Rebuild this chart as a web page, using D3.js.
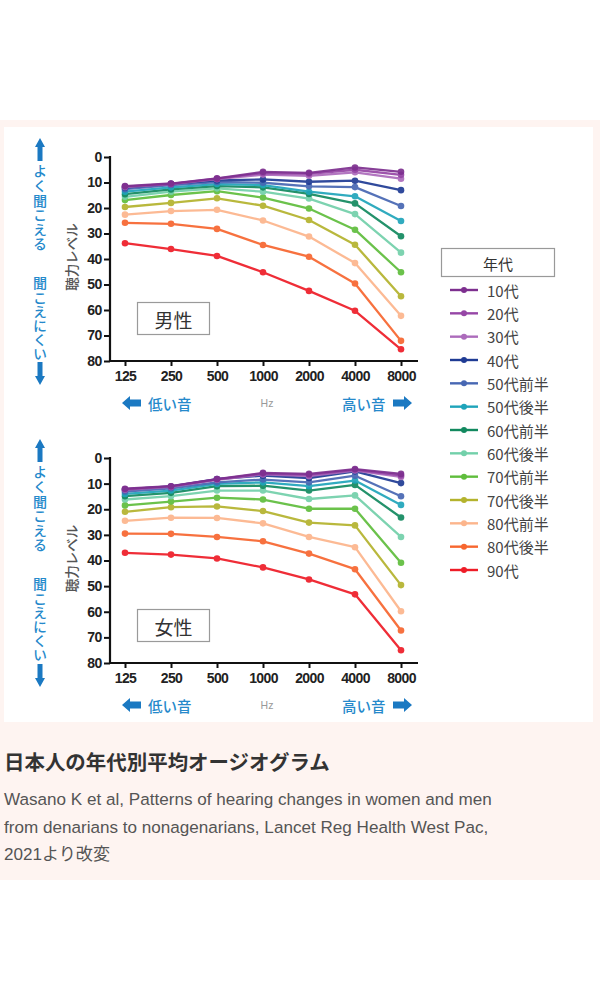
<!DOCTYPE html>
<html><head><meta charset="utf-8">
<script src="https://cdn.jsdelivr.net/npm/d3@7"></script>
<style>
html,body{margin:0;padding:0;background:#fff;}
svg{display:block;}
</style></head>
<body>
<svg id="chart" width="600" height="1000"></svg>
<script>
const frequencies = ["125","250","500","1000","2000","4000","8000"];
const ageGroups = ["10代","20代","30代","40代","50代前半","50代後半","60代前半","60代後半","70代前半","70代後半","80代前半","80代後半","90代"];
const yTicks = [0,10,20,30,40,50,60,70,80];

const maleLevels = [
  [11.4, 10.4, 8.4, 5.8, 6.2, 4.1, 5.8],
  [11.6, 10.5, 8.5, 6.3, 6.6, 5.0, 7.0],
  [11.8, 10.6, 8.7, 6.9, 7.4, 6.0, 8.5],
  [12.0, 10.5, 9.2, 8.8, 9.7, 9.3, 13.0],
  [12.6, 11.0, 9.8, 10.1, 11.5, 11.8, 19.2],
  [13.6, 11.9, 10.6, 11.0, 13.6, 15.4, 25.1],
  [14.6, 12.7, 11.4, 11.9, 14.5, 18.2, 31.1],
  [15.6, 13.6, 12.3, 13.6, 16.3, 22.4, 37.5],
  [16.9, 14.9, 13.4, 15.9, 20.2, 28.5, 45.2],
  [19.6, 18.0, 16.2, 19.1, 24.7, 34.4, 54.6],
  [22.6, 21.2, 20.7, 24.9, 31.2, 41.6, 62.3],
  [25.8, 26.2, 28.2, 34.5, 39.1, 49.6, 72.1],
  [33.8, 36.1, 38.8, 45.2, 52.5, 60.3, 75.4]
];
const femaleLevels = [
  [12.0, 11.0, 8.2, 5.8, 6.2, 4.3, 6.2],
  [12.2, 11.1, 8.3, 6.1, 6.6, 4.6, 6.8],
  [12.4, 11.3, 8.5, 6.4, 7.1, 4.9, 7.4],
  [12.3, 11.1, 8.2, 6.9, 7.8, 5.2, 9.8],
  [13.1, 11.8, 9.5, 8.4, 9.5, 6.9, 14.9],
  [14.0, 12.7, 10.1, 9.5, 11.0, 8.8, 18.3],
  [14.9, 13.6, 11.0, 10.8, 12.7, 10.5, 23.2],
  [16.2, 14.9, 12.7, 12.7, 16.0, 14.6, 30.8],
  [18.5, 17.0, 15.5, 16.2, 19.8, 19.8, 40.9],
  [21.0, 19.2, 18.9, 20.7, 25.2, 26.3, 49.6],
  [24.5, 23.3, 23.4, 25.5, 30.8, 34.8, 59.8],
  [29.5, 29.6, 30.8, 32.5, 37.3, 43.4, 67.3],
  [37.0, 37.7, 39.2, 42.7, 47.4, 53.2, 75.0]
];
const seriesColors = ["#7d2f8f","#9646a6","#ac6bbb","#1f3b94","#4767b3","#1fa4ba","#12895f","#72d0aa","#5fbd3c","#b4b32d","#fcb58c","#f7662f","#ee1c27"];

const JP = "'Noto Sans CJK JP','Noto Sans',sans-serif";
const NUM = "'Liberation Sans',Arial,sans-serif";
const CAP = "'Liberation Sans',Arial,'Noto Sans CJK JP',sans-serif";
const BLUE = "#1b79c2";
const BLUE_TXT = "#2589cb";

const svg = d3.select("#chart");
svg.append("rect").attr("x",0).attr("y",120).attr("width",600).attr("height",760).attr("fill","#fef4f1");
svg.append("rect").attr("x",4).attr("y",127).attr("width",589).attr("height",595).attr("fill","#ffffff");

const x = d3.scalePoint().domain(frequencies).range([125, 401]);

function vArrow(g, cx, tip, dir) {
  const s = dir; // -1 up, +1 down
  const pts = [[0,0],[5,-9*s],[2.5,-9*s],[2.5,-23*s],[-2.5,-23*s],[-2.5,-9*s],[-5,-9*s]];
  g.append("path").attr("d", d3.line()(pts.map(p => [cx+p[0], tip+p[1]])) + "Z").attr("fill", BLUE);
}
function hArrow(g, tipX, cy, dir) {
  const s = dir; // -1 left, +1 right
  const pts = [[0,0],[-8*s,-7],[-8*s,-3.5],[-19*s,-3.5],[-19*s,3.5],[-8*s,3.5],[-8*s,7]];
  g.append("path").attr("d", d3.line()(pts.map(p => [tipX+p[0], cy+p[1]])) + "Z").attr("fill", BLUE);
}
function verticalText(g, str, cx, top, spacing) {
  g.append("text").attr("x", cx).attr("y", top)
    .attr("style", "writing-mode: vertical-rl; text-orientation: upright;")
    .attr("letter-spacing", spacing)
    .attr("font-family", JP).attr("font-size", 14).attr("font-weight", 500)
    .attr("fill", BLUE_TXT).text(str);
}

function drawPanel(levels, top, bottom, label, opts) {
  const g = svg.append("g");
  const y = d3.scaleLinear().domain([0, 80]).range([top, bottom]);
  const axisX = 110;

  const yAxis = d3.axisLeft(y).tickValues(yTicks).tickSize(6).tickPadding(2);
  const ya = g.append("g").attr("transform", `translate(${axisX},0)`).call(yAxis);
  ya.select(".domain").attr("stroke","#111").attr("stroke-width",2.2).attr("d", `M0,${top-1}V${bottom}`);
  ya.selectAll(".tick line").attr("stroke","#111").attr("stroke-width",2);
  ya.selectAll(".tick text").attr("font-family", NUM).attr("font-weight","bold").attr("font-size",14).attr("fill","#222").attr("letter-spacing",-0.4);

  const xAxis = d3.axisBottom(x).tickSize(5).tickPadding(5);
  const xa = g.append("g").attr("transform", `translate(0,${bottom})`).call(xAxis);
  xa.select(".domain").attr("stroke","#111").attr("stroke-width",2.2).attr("d", `M${axisX-1},0H418`);
  xa.selectAll(".tick line").attr("stroke","#111").attr("stroke-width",2);
  xa.selectAll(".tick text").attr("font-family", NUM).attr("font-weight","bold").attr("font-size",14).attr("fill","#222").attr("letter-spacing",-0.6);

  g.append("text").attr("transform", `translate(71,${(top+bottom)/2 - 2}) rotate(-90)`)
    .attr("text-anchor","middle").attr("dominant-baseline","central")
    .attr("font-family", JP).attr("font-size", 13.5).attr("font-weight",500).attr("fill","#555").text("聴力レベル");

  const line = d3.line().x((d,i) => x(frequencies[i])).y(d => y(d));
  for (let s = levels.length - 1; s >= 0; s--) {
    const sg = g.append("g").attr("opacity", 0.92);
    sg.append("path").datum(levels[s]).attr("d", line).attr("fill","none")
      .attr("stroke", seriesColors[s]).attr("stroke-width", 2.3).attr("stroke-linejoin","round");
    sg.selectAll("circle").data(levels[s]).join("circle")
      .attr("cx", (d,i) => x(frequencies[i])).attr("cy", d => y(d)).attr("r", 3.3)
      .attr("fill", seriesColors[s]);
  }

  g.append("rect").attr("x",137.5).attr("y",opts.boxTop+0.5).attr("width",72).attr("height",32)
    .attr("fill","#fff").attr("stroke","#9a9a9a").attr("stroke-width",1.2);
  g.append("text").attr("x",173.5).attr("y",opts.boxTop+17).attr("text-anchor","middle").attr("dominant-baseline","central")
    .attr("font-family", JP).attr("font-size", 19).attr("fill","#333").text(label);

  vArrow(g, 40, top - 19, -1);
  verticalText(g, "よく聞こえる", 40, top + 7, 0.6);
  verticalText(g, "聞こえにくい", 40, top + 119, 0.2);
  vArrow(g, 40, bottom + 24, 1);

  const ry = bottom + 42;
  hArrow(g, 122, ry, -1);
  g.append("text").attr("x",148).attr("y",ry).attr("dominant-baseline","central")
    .attr("font-family", JP).attr("font-size", 14.5).attr("font-weight",500).attr("fill", BLUE_TXT).text("低い音");
  g.append("text").attr("x",267).attr("y",ry).attr("text-anchor","middle").attr("dominant-baseline","central")
    .attr("font-family", NUM).attr("font-size", 10.5).attr("fill","#999").text("Hz");
  g.append("text").attr("x",342).attr("y",ry).attr("dominant-baseline","central")
    .attr("font-family", JP).attr("font-size", 14.5).attr("font-weight",500).attr("fill", BLUE_TXT).text("高い音");
  hArrow(g, 412, ry, 1);
}

drawPanel(maleLevels, 157, 361, "男性", {boxTop: 302});
drawPanel(femaleLevels, 458, 663, "女性", {boxTop: 609});

const lg = svg.append("g");
lg.append("rect").attr("x",441.5).attr("y",248.5).attr("width",113).attr("height",28)
  .attr("fill","#fff").attr("stroke","#999").attr("stroke-width",1.2);
lg.append("text").attr("x",498).attr("y",263).attr("text-anchor","middle").attr("dominant-baseline","central")
  .attr("font-family", JP).attr("font-size", 15).attr("fill","#333").text("年代");
const ly = d3.scalePoint().domain(ageGroups).range([290, 570]);
const items = lg.selectAll("g.item").data(ageGroups).join("g").attr("class","item")
  .attr("transform", d => `translate(0,${ly(d)})`);
items.append("line").attr("x1",450).attr("x2",478).attr("y1",0).attr("y2",0)
  .attr("stroke",(d,i)=>seriesColors[i]).attr("stroke-width",2.4);
items.append("circle").attr("cx",464).attr("cy",0).attr("r",3).attr("fill",(d,i)=>seriesColors[i]);
items.append("text").attr("x",487).attr("y",0).attr("dominant-baseline","central")
  .attr("font-family", JP).attr("font-size", 15).attr("fill","#444").text(d => d);

// caption
const title = svg.append("text").attr("x",4).attr("y",770).attr("font-family", JP).attr("font-weight","bold")
  .attr("font-size", 20).attr("fill","#333").text("日本人の年代別平均オージオグラム");
const tw = title.node().getComputedTextLength();
if (tw > 0) title.attr("font-size", Math.min(22, Math.max(18, 20 * 326 / tw)));

const captionLines = ["Wasano K et al, Patterns of hearing changes in women and men",
  "from denarians to nonagenarians, Lancet Reg Health West Pac,",
  "2021より改変"];
const caps = svg.selectAll("text.cap").data(captionLines).join("text").attr("class","cap")
  .attr("x",4).attr("y",(d,i)=>805 + i*27.5)
  .attr("font-family", CAP).attr("font-size", 16).attr("fill","#555").text(d => d);
const cw = caps.nodes()[0].getComputedTextLength();
if (cw > 0) caps.attr("font-size", Math.min(18, Math.max(14, 16 * 488 / cw)));
</script>
</body></html>
